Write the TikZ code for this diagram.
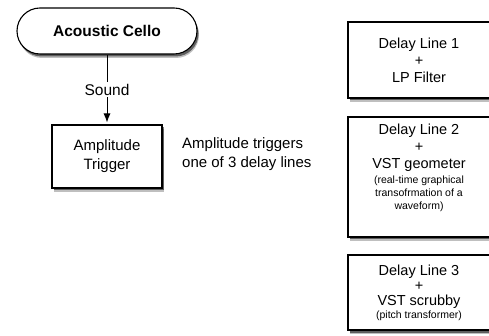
\documentclass[tikz,border=0pt]{standalone}
\usepackage{fontspec}
\setmainfont{Liberation Sans}
\usetikzlibrary{shadows,arrows.meta}

\tikzset{
    shade/.style={
        drop shadow={shadow xshift=2pt, shadow yshift=-4pt, opacity=0.25, fill=black},
        drop shadow={shadow xshift=1.5pt, shadow yshift=-2.5pt, opacity=0.5, fill=black}},
    startbox/.style={draw, line width=1.1pt, fill=white, rounded corners=23pt, minimum width=180pt, minimum height=46pt, font=\fontsize{15.5}{18}\selectfont\bfseries, shade},
    trigbox/.style={draw, line width=1.1pt, fill=white, minimum width=110pt, minimum height=63pt, align=center, font=\fontsize{15}{19}\selectfont, shade},
    delaybox/.style={draw, line width=1.1pt, fill=white, minimum width=142pt, shade},
    bigtxt/.style={align=center, font=\fontsize{14.5}{17}\selectfont, inner sep=0pt},
}

\newcommand{\smalltxt}[1]{{\fontsize{10.5}{13}\selectfont #1}}

\begin{document}
\begin{tikzpicture}[x=1pt, y=-1pt]

        \path[use as bounding box, clip] (0,0) rectangle (489,336);

        % left side

        \node[startbox] (cello) at (107,31) {Acoustic Cello};
        \node[trigbox] (trig) at (107,156.5) {Amplitude\\Trigger};

        \draw[line width=0.9pt, -{Latex[length=9pt,width=7pt]}, shorten >=2pt] (cello) -- node[fill=white, font=\fontsize{15.5}{18}\selectfont, inner sep=2pt] (sound) {Sound} (trig);

        \node[anchor=west, align=left, font=\fontsize{15}{19.5}\selectfont, inner sep=0pt] (note) at (182,154) {Amplitude triggers\\one of 3 delay lines};

        % delay lines

        \node[delaybox, minimum height=76pt] (dl1) at (419,60) {};
        \node[bigtxt] (dl1txt) at (dl1) {Delay Line 1\\+\\LP Filter};

        \node[delaybox, minimum height=120pt] (dl2) at (419,177) {};
        \node[bigtxt, anchor=north] (dl2txt) at ([yshift=-7pt]dl2.north) {Delay Line 2\\+\\VST geometer\\[-2pt]
            \smalltxt{(real-time graphical}\\[-4pt]\smalltxt{transofrmation of a}\\[-4pt]\smalltxt{waveform)}};

        \node[delaybox, minimum height=75pt] (dl3) at (419,292.5) {};
        \node[bigtxt] (dl3txt) at (dl3) {Delay Line 3\\[-2pt]+\\[-2pt]VST scrubby\\[-4pt]\smalltxt{(pitch transformer)}};

    \end{tikzpicture}
\end{document}
